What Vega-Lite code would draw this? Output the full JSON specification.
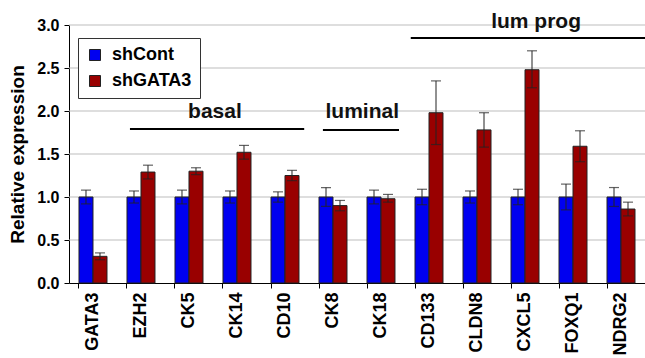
{
  "$schema": "https://vega.github.io/schema/vega-lite/v6.json",
  "width": 576,
  "height": 258,
  "autosize": {"type": "none"},
  "padding": {"left": 69, "top": 25, "right": 0, "bottom": 75},
  "background": "white",
  "config": {
    "view": {"stroke": null},
    "font": "Liberation Sans",
    "axis": {"labelFont": "Liberation Sans", "titleFont": "Liberation Sans", "labelColor": "black", "titleColor": "black", "domainColor": "black", "tickColor": "black"}
  },
  "datasets": {
    "expr": [
      {"gene": "GATA3", "condition": "shCont", "value": 1.0, "lo": 0.92, "hi": 1.08},
      {"gene": "GATA3", "condition": "shGATA3", "value": 0.31, "lo": 0.27, "hi": 0.35},
      {"gene": "EZH2", "condition": "shCont", "value": 1.0, "lo": 0.93, "hi": 1.07},
      {"gene": "EZH2", "condition": "shGATA3", "value": 1.29, "lo": 1.21, "hi": 1.37},
      {"gene": "CK5", "condition": "shCont", "value": 1.0, "lo": 0.92, "hi": 1.08},
      {"gene": "CK5", "condition": "shGATA3", "value": 1.30, "lo": 1.26, "hi": 1.34},
      {"gene": "CK14", "condition": "shCont", "value": 1.0, "lo": 0.93, "hi": 1.07},
      {"gene": "CK14", "condition": "shGATA3", "value": 1.52, "lo": 1.44, "hi": 1.60},
      {"gene": "CD10", "condition": "shCont", "value": 1.0, "lo": 0.94, "hi": 1.06},
      {"gene": "CD10", "condition": "shGATA3", "value": 1.25, "lo": 1.19, "hi": 1.31},
      {"gene": "CK8", "condition": "shCont", "value": 1.0, "lo": 0.89, "hi": 1.11},
      {"gene": "CK8", "condition": "shGATA3", "value": 0.90, "lo": 0.84, "hi": 0.96},
      {"gene": "CK18", "condition": "shCont", "value": 1.0, "lo": 0.92, "hi": 1.08},
      {"gene": "CK18", "condition": "shGATA3", "value": 0.98, "lo": 0.94, "hi": 1.03},
      {"gene": "CD133", "condition": "shCont", "value": 1.0, "lo": 0.91, "hi": 1.09},
      {"gene": "CD133", "condition": "shGATA3", "value": 1.98, "lo": 1.61, "hi": 2.35},
      {"gene": "CLDN8", "condition": "shCont", "value": 1.0, "lo": 0.93, "hi": 1.07},
      {"gene": "CLDN8", "condition": "shGATA3", "value": 1.78, "lo": 1.58, "hi": 1.98},
      {"gene": "CXCL5", "condition": "shCont", "value": 1.0, "lo": 0.91, "hi": 1.09},
      {"gene": "CXCL5", "condition": "shGATA3", "value": 2.48, "lo": 2.27, "hi": 2.70},
      {"gene": "FOXQ1", "condition": "shCont", "value": 1.0, "lo": 0.85, "hi": 1.15},
      {"gene": "FOXQ1", "condition": "shGATA3", "value": 1.59, "lo": 1.41, "hi": 1.77},
      {"gene": "NDRG2", "condition": "shCont", "value": 1.0, "lo": 0.89, "hi": 1.11},
      {"gene": "NDRG2", "condition": "shGATA3", "value": 0.86, "lo": 0.78, "hi": 0.94}
    ],
    "groups": [
      {"label": "basal", "start": 1.27, "end": 4.9, "line": 1.79, "center": 3.04, "textY": 1.92},
      {"label": "luminal", "start": 5.29, "end": 6.875, "line": 1.78, "center": 6.11, "textY": 1.92},
      {"label": "lum prog", "start": 7.12, "end": 12, "line": 2.85, "center": 9.73, "textY": 2.97}
    ],
    "grid": [
      {"level": 0.5}, {"level": 1.0}, {"level": 1.5}, {"level": 2.0}, {"level": 2.5}, {"level": 3.0}
    ]
  },
  "layer": [
    {
      "data": {"name": "grid"},
      "mark": {"type": "rule", "color": "#bdbdbd", "strokeWidth": 1},
      "encoding": {
        "y": {
          "field": "level", "type": "quantitative",
          "scale": {"domain": [0, 3], "nice": false},
          "axis": {
            "title": "Relative expression", "titleFontSize": 19, "titleFontWeight": "bold", "titlePadding": 9,
            "values": [0, 0.5, 1, 1.5, 2, 2.5, 3], "format": ".1f",
            "labelFontSize": 16, "labelFontWeight": "bold", "labelPadding": 5, "tickSize": 5,
            "grid": false
          }
        }
      }
    },
    {
      "data": {"name": "expr"},
      "encoding": {
        "x": {
          "field": "gene", "type": "nominal", "sort": null,
          "scale": {"paddingInner": 0.4167, "paddingOuter": 0.2083},
          "axis": {
            "title": null, "labelAngle": -90, "labelAlign": "right", "labelBaseline": "middle",
            "labelFontSize": 18, "labelFontWeight": "bold", "labelPadding": 4,
            "bandPosition": 0, "tickSize": 5, "domainWidth": 1, "grid": false
          }
        },
        "xOffset": {"field": "condition", "type": "nominal", "scale": {"paddingInner": 0, "paddingOuter": 0}}
      },
      "layer": [
        {
          "mark": {"type": "bar", "stroke": "#222222", "strokeWidth": 1},
          "encoding": {
            "y": {
              "field": "value", "type": "quantitative",
              "scale": {"domain": [0, 3], "nice": false},
              "axis": {
                "title": "Relative expression", "titleFontSize": 19, "titleFontWeight": "bold", "titlePadding": 9,
                "values": [0, 0.5, 1, 1.5, 2, 2.5, 3], "format": ".1f",
                "labelFontSize": 16, "labelFontWeight": "bold", "labelPadding": 5, "tickSize": 5,
                "grid": false
              }
            },
            "color": {
              "field": "condition", "type": "nominal",
              "scale": {"domain": ["shCont", "shGATA3"], "range": ["#0000f0", "#990000"]},
              "legend": {
                "title": null, "orient": "none", "legendX": 9, "legendY": 13,
                "symbolType": "square", "symbolSize": 121, "symbolStrokeColor": "#222222", "symbolStrokeWidth": 1,
                "symbolOpacity": 1,
                "labelFontSize": 18, "labelFontWeight": "bold", "labelColor": "black", "labelFont": "Liberation Sans",
                "labelOffset": 8, "rowPadding": 8, "padding": 8,
                "strokeColor": "#333333", "fillColor": "white"
              }
            }
          }
        },
        {
          "mark": {"type": "rule", "color": "#222222", "strokeWidth": 1},
          "encoding": {
            "y": {"field": "lo", "type": "quantitative"},
            "y2": {"field": "hi"}
          }
        },
        {
          "mark": {"type": "tick", "color": "#222222", "size": 10, "thickness": 1.2},
          "encoding": {"y": {"field": "lo", "type": "quantitative"}}
        },
        {
          "mark": {"type": "tick", "color": "#222222", "size": 10, "thickness": 1.2},
          "encoding": {"y": {"field": "hi", "type": "quantitative"}}
        }
      ]
    },
    {
      "data": {"name": "groups"},
      "mark": {"type": "rule", "color": "black", "strokeWidth": 2},
      "encoding": {
        "x": {"field": "start", "type": "quantitative", "scale": {"domain": [0, 12], "nice": false, "zero": false}, "axis": null},
        "x2": {"field": "end"},
        "y": {"field": "line", "type": "quantitative"}
      }
    },
    {
      "data": {"name": "groups"},
      "mark": {"type": "text", "fontSize": 21, "fontWeight": "bold", "font": "Liberation Sans", "color": "#111111", "align": "center", "baseline": "alphabetic"},
      "encoding": {
        "x": {"field": "center", "type": "quantitative", "scale": {"domain": [0, 12], "nice": false, "zero": false}, "axis": null},
        "y": {"field": "textY", "type": "quantitative"},
        "text": {"field": "label"}
      }
    }
  ],
  "resolve": {"scale": {"x": "independent"}}
}
